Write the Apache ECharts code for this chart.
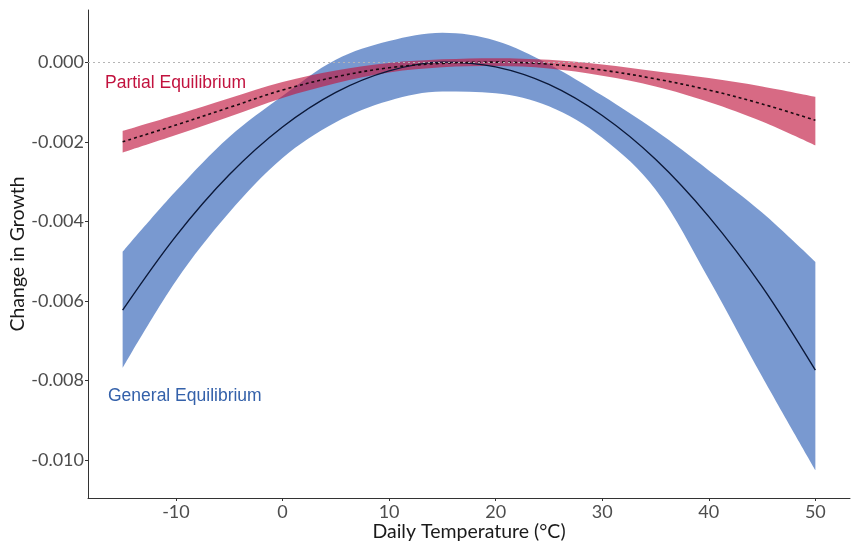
<!DOCTYPE html>
<html>
<head>
<meta charset="utf-8">
<script src="https://cdn.jsdelivr.net/npm/echarts@6/dist/echarts.min.js"></script>
<style>
  html, body { margin: 0; padding: 0; background: #fff; }
  #chart { width: 854px; height: 545px; }
</style>
</head>
<body>
<div id="chart"></div>
<script>
// Daily temperature (°C) at which the response curves are evaluated
const temps = [-15, -10, -5, 0, 5, 10, 15, 20, 25, 30, 35, 40, 45, 50];

// General equilibrium: point estimate and confidence band
const geMean  = [-0.00623, -0.00437, -0.00283, -0.00163, -0.00076, -0.00022, 0.00000, -0.00012, -0.00056, -0.00134, -0.00244, -0.00388, -0.00564, -0.00774];
const geUpper = [-0.00477, -0.00324, -0.00188, -0.00085, 0.00006, 0.00053, 0.00074, 0.00054, -0.00005, -0.00084, -0.00172, -0.00272, -0.00378, -0.00502];
const geLower = [-0.00769, -0.00550, -0.00378, -0.00241, -0.00151, -0.00097, -0.00074, -0.00078, -0.00111, -0.00190, -0.00320, -0.00545, -0.00790, -0.01025];

// Partial equilibrium: point estimate and confidence band
const peMean  = [-0.00200, -0.00158, -0.00114, -0.00070, -0.00037, -0.00014, -0.00003, 0.00000, -0.00005, -0.00020, -0.00042, -0.00070, -0.00105, -0.00146];
const peUpper = [-0.00173, -0.00133, -0.00091, -0.00050, -0.00021, -0.00002, 0.00007, 0.00010, 0.00006, -0.00006, -0.00023, -0.00040, -0.00061, -0.00087];
const peLower = [-0.00227, -0.00183, -0.00137, -0.00090, -0.00053, -0.00026, -0.00013, -0.00010, -0.00016, -0.00034, -0.00061, -0.00100, -0.00149, -0.00209];

// Tick labels
const xTicks = [-10, 0, 10, 20, 30, 40, 50];
const yTicks = [-0.010, -0.008, -0.006, -0.004, -0.002, 0.000];
const zeroLevel = 0;

const pairs = (ys) => temps.map((t, i) => [t, ys[i]]);
// Band rows keep the value first so that stacking acts on the y dimension
const valueFirst = (ys) => temps.map((t, i) => [ys[i], t]);
const spans = (hi, lo) => temps.map((t, i) => [hi[i] - lo[i], t]);

const axisFont = 'Lato, "Open Sans", sans-serif';

// A shaded band: an invisible lower edge with the band width stacked on top of it
function band(name, stackId, lower, upper, color, opacity) {
  return [
    {
      name: name + ' base', type: 'line', stack: stackId, stackStrategy: 'all', smooth: 0.35,
      data: valueFirst(lower), encode: { x: 1, y: 0 }, symbol: 'none', silent: true,
      lineStyle: { opacity: 0 }, z: 1
    },
    {
      name: name + ' band', type: 'line', stack: stackId, stackStrategy: 'all', smooth: 0.35,
      data: spans(upper, lower), encode: { x: 1, y: 0 }, symbol: 'none', silent: true,
      lineStyle: { opacity: 0 },
      areaStyle: { color: color, opacity: opacity }, z: 1
    }
  ];
}

const chart = echarts.init(document.getElementById('chart'), null, { renderer: 'canvas' });

chart.setOption({
  animation: false,
  backgroundColor: '#ffffff',
  grid: { left: 88, right: 4, top: 10, bottom: 47, containLabel: false, outerBoundsMode: 'none' },
  xAxis: {
    type: 'value', min: -18.25, max: 53.25,
    name: 'Daily Temperature (°C)', nameLocation: 'middle', nameGap: 24, nameMoveOverlap: false,
    nameTextStyle: { fontFamily: axisFont, fontSize: 19.5, color: '#1a1a1a' },
    axisLine: { show: true, onZero: false, lineStyle: { color: '#333', width: 1 } },
    axisTick: { show: true, length: 3, customValues: xTicks, lineStyle: { color: '#333' } },
    axisLabel: { customValues: xTicks, margin: 5, fontFamily: axisFont, fontSize: 18, color: '#4d4d4d' },
    splitLine: { show: false }
  },
  yAxis: {
    type: 'value', min: -0.01095, max: 0.00131,
    name: 'Change in Growth', nameLocation: 'middle', nameGap: 60, nameRotate: 90, nameMoveOverlap: false,
    nameTextStyle: { fontFamily: axisFont, fontSize: 19.5, color: '#1a1a1a' },
    axisLine: { show: true, onZero: false, lineStyle: { color: '#333', width: 1 } },
    axisTick: { show: true, length: 3, customValues: yTicks, lineStyle: { color: '#333' } },
    axisLabel: {
      customValues: yTicks, margin: 4, fontFamily: axisFont, fontSize: 18, color: '#4d4d4d',
      formatter: (v) => Number(v).toFixed(3)
    },
    splitLine: { show: false }
  },
  series: [
    ...band('General Equilibrium', 'ge', geLower, geUpper, '#4a76c0', 0.74),
    ...band('Partial Equilibrium', 'pe', peLower, peUpper, '#c0163f', 0.64),
    {
      name: 'General Equilibrium', type: 'line', smooth: 0.35, data: pairs(geMean),
      symbol: 'none', lineStyle: { color: '#0b1838', width: 1.4 }, z: 3,
      markLine: {
        silent: true, symbol: 'none', label: { show: false },
        lineStyle: { color: '#b5b5b5', type: [2, 3], width: 1 },
        data: [{ yAxis: zeroLevel }]
      }
    },
    {
      name: 'Partial Equilibrium', type: 'line', smooth: 0.35, data: pairs(peMean),
      symbol: 'none', lineStyle: { color: '#1a0a10', width: 1.6, type: [3, 3] }, z: 3
    }
  ],
  graphic: [
    {
      type: 'text', left: 105, top: 74,
      style: { text: 'Partial Equilibrium', fill: '#c2123e', font: '17.5px "Liberation Sans", Arial, sans-serif' }
    },
    {
      type: 'text', left: 108, top: 387,
      style: { text: 'General Equilibrium', fill: '#3461aa', font: '17.5px "Liberation Sans", Arial, sans-serif' }
    }
  ]
});
</script>
</body>
</html>
